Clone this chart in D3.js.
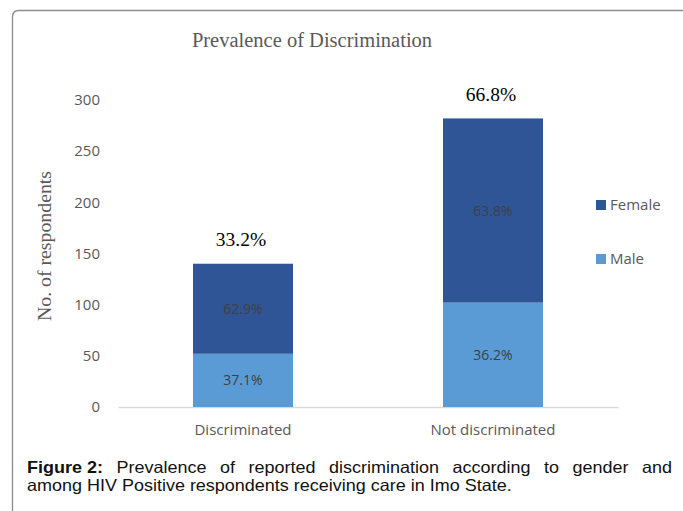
<!DOCTYPE html>
<html>
<head>
<meta charset="utf-8">
<script src="https://cdn.jsdelivr.net/npm/d3@7"></script>
<style>
  html, body { margin: 0; padding: 0; background: #fff; }
  svg { display: block; }
</style>
</head>
<body>
<svg id="chart" width="683" height="511"></svg>
<script>
// ---- data ----
const categories = ["Discriminated", "Not discriminated"];
const seriesKeys = ["Male", "Female"];
const maleValues = [52, 102];
const femaleValues = [88, 180];
const maleLabels = ["37.1%", "36.2%"];
const femaleLabels = ["62.9%", "63.8%"];
const totalLabels = ["33.2%", "66.8%"];
const yTicks = [0, 50, 100, 150, 200, 250, 300];
const legendKeys = ["Female", "Male"];
const titleText = "Prevalence of Discrimination";
const yAxisTitle = "No. of respondents";
const captionBold = "Figure 2:";
const captionLine1 = "Prevalence of reported discrimination according to gender and";
const captionLine2 = "among HIV Positive respondents receiving care in Imo State.";

const colors = { Female: "#2F5597", Male: "#5B9BD5" };

const svg = d3.select("#chart");
svg.append("rect").attr("width", 683).attr("height", 511).attr("fill", "#fff");

// frame
svg.append("path")
  .attr("d", "M12.5,511 V17 Q12.5,10.5 19,10.5 H683")
  .attr("fill", "none").attr("stroke", "#8c8c8c").attr("stroke-width", 1.3);

const x = d3.scaleBand().domain(categories).range([118, 618])
  .paddingInner(0.6).paddingOuter(0.3);
const y = d3.scaleLinear().domain([0, 300]).range([407, 100]);

const table = categories.map((c, i) => ({ cat: c, Male: maleValues[i], Female: femaleValues[i], i }));
const stacked = d3.stack().keys(seriesKeys)(table);

// title
svg.append("text").attr("x", 312).attr("y", 47).attr("text-anchor", "middle")
  .attr("font-family", "'Liberation Serif', 'Times New Roman', serif")
  .attr("font-size", 20.5).attr("fill", "#595959").text(titleText);

// y axis title
svg.append("text").attr("transform", "translate(51,246) rotate(-90)")
  .attr("text-anchor", "middle")
  .attr("font-family", "'Liberation Serif', 'Times New Roman', serif")
  .attr("font-size", 19.8).attr("fill", "#595959").text(yAxisTitle);

// y axis (labels only)
const yAxis = d3.axisLeft(y).tickValues(yTicks).tickSize(0).tickPadding(0);
const yg = svg.append("g").attr("transform", "translate(100,0)").call(yAxis);
yg.select(".domain").remove();
yg.selectAll("text").attr("font-family", "'Open Sans', sans-serif")
  .attr("font-size", 15).attr("fill", "#595959");

// x axis
const xAxis = d3.axisBottom(x).tickSize(0).tickPadding(0);
const xg = svg.append("g").attr("transform", `translate(0,${y(0)})`).call(xAxis);
xg.select(".domain").attr("stroke", "#d9d9d9").attr("stroke-width", 1.3);
xg.selectAll("text").attr("font-family", "'Open Sans', sans-serif")
  .attr("font-size", 15).attr("fill", "#595959").attr("dy", null).attr("y", 28);

// bars
svg.append("g").selectAll("g").data(stacked).join("g")
  .attr("fill", d => colors[d.key])
  .selectAll("rect").data(d => d).join("rect")
  .attr("x", d => x(d.data.cat))
  .attr("width", x.bandwidth())
  .attr("y", d => y(d[1]))
  .attr("height", d => y(d[0]) - y(d[1]));

// segment labels
const segLabels = { Male: maleLabels, Female: femaleLabels };
stacked.forEach(s => {
  svg.append("g").selectAll("text").data(s).join("text")
    .attr("x", d => x(d.data.cat) + x.bandwidth() / 2)
    .attr("y", d => (y(d[0]) + y(d[1])) / 2)
    .attr("dy", "0.36em")
    .attr("text-anchor", "middle")
    .attr("font-family", "'Open Sans', sans-serif")
    .attr("font-size", 14).attr("fill", "#404040")
    .text(d => segLabels[s.key][d.data.i]);
});

// total labels
const topSeries = stacked[stacked.length - 1];
svg.append("g").selectAll("text").data(topSeries).join("text")
  .attr("x", d => x(d.data.cat) + x.bandwidth() / 2 - 2)
  .attr("y", d => y(d[1]) - 17.5)
  .attr("text-anchor", "middle")
  .attr("font-family", "'Liberation Serif', 'Times New Roman', serif")
  .attr("font-size", 19.5).attr("fill", "#000")
  .text(d => totalLabels[d.data.i]);

// legend
const legendY = d3.scalePoint().domain(legendKeys).range([205, 259]);
const lg = svg.append("g").selectAll("g").data(legendKeys).join("g")
  .attr("transform", k => `translate(596,${legendY(k)})`);
lg.append("rect").attr("x", 0).attr("y", -5).attr("width", 10).attr("height", 10)
  .attr("fill", k => colors[k]);
lg.append("text").attr("x", 14).attr("y", 0).attr("dy", "0.36em")
  .attr("font-family", "'Open Sans', sans-serif").attr("font-size", 15)
  .attr("fill", "#595959").text(k => k);

// caption
const capFont = "'Liberation Sans', Arial, sans-serif";
const capSize = 16.5;
const capLeft = 27, capRight = 672, line2Right = 512;
const cap = svg.append("g").attr("font-family", capFont).attr("font-size", capSize).attr("fill", "#111");

const l2 = cap.append("text").attr("x", 0).attr("y", 491).text(captionLine2);
const l2w = l2.node().getComputedTextLength();
const sx = (line2Right - capLeft) / l2w;
cap.attr("transform", `translate(${capLeft},0) scale(${sx},1)`);

// line 1 justified word by word ("Figure 2:" kept as one token)
const words1 = [{ t: captionBold, bold: true }].concat(captionLine1.split(" ").map(t => ({ t, bold: false })));
const wnodes = words1.map(w => cap.append("text").attr("y", 473)
  .attr("font-weight", w.bold ? "bold" : null).text(w.t));
const widths = wnodes.map(n => n.node().getComputedTextLength());
const totalW = (capRight - capLeft) / sx;
const gap = (totalW - d3.sum(widths)) / (wnodes.length - 1);
let cx = 0;
wnodes.forEach((n, i) => { n.attr("x", cx); cx += widths[i] + gap; });
</script>
</body>
</html>
